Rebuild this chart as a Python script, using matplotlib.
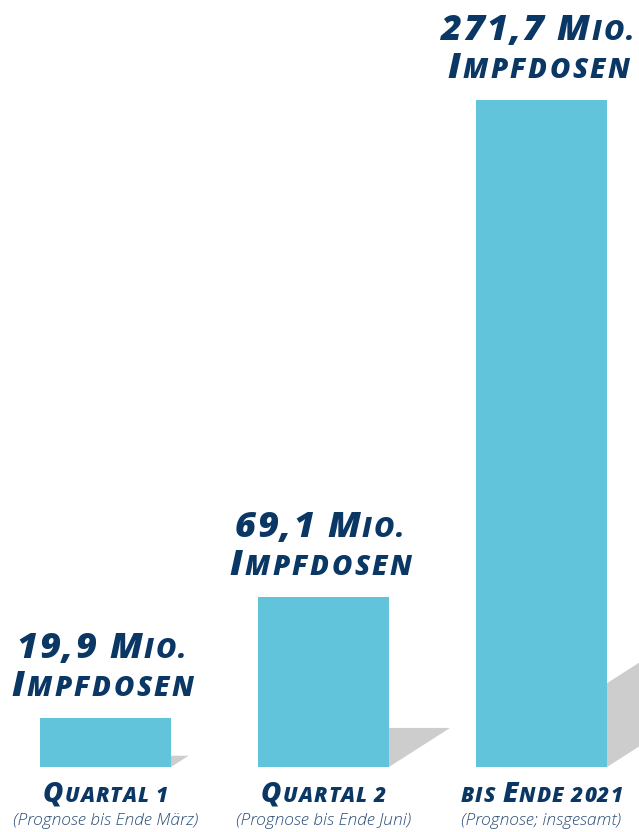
import matplotlib
matplotlib.use('Agg')
import matplotlib.pyplot as plt
from matplotlib.transforms import ScaledTranslation
from matplotlib.patches import Polygon

# ---- data ----
categories = ['Quartal 1', 'Quartal 2', 'bis Ende 2021']
values = [19.9, 69.1, 271.7]
value_texts = ['19,9', '69,1', '271,7']
unit_line1 = 'Mio.'
unit_line2 = 'Impfdosen'
subtitles = ['(Prognose bis Ende März)', '(Prognose bis Ende Juni)', '(Prognose; insgesamt)']
# small-caps segments for category labels: (text, big?)
cat_segments = [
    [('Q', True), ('UARTAL 1', False)],
    [('Q', True), ('UARTAL 2', False)],
    [('BIS ', False), ('E', True), ('NDE 2021', False)],
]

NAVY = '#0b3765'
BAR = '#62c4da'
SHADOW = '#cdcdcd'
SUB = '#2b4d78'
FONT = 'Open Sans'

DPI = 100
fig = plt.figure(figsize=(6.39, 8.32), dpi=DPI)
ax = fig.add_axes([0, 0, 1, 1])
ax.set_xlim(-0.484, 2.447)
ax.set_ylim(-26.5, 312.4)
ax.axis('off')

x = list(range(len(values)))
bar_w = 0.601
ax.bar(x, values, width=bar_w, color=BAR, zorder=3)

# shadows cast to the back-right
for xi, v in zip(x, values):
    dx = v * 0.00405
    dy = v * 0.23
    l, r = xi - bar_w / 2, xi + bar_w / 2
    poly = Polygon([(l, 0), (r, 0), (r + dx, dy), (l + dx, dy)],
                   closed=True, facecolor=SHADOW, edgecolor='none', zorder=1)
    ax.add_patch(poly)

renderer = fig.canvas.get_renderer()
_cache = {}


def char_width(c, size, kw):
    key = (c, size)
    if key not in _cache:
        if c == ' ':
            t1 = ax.text(0, 0, 'a a', fontsize=size, **kw)
            t2 = ax.text(0, 0, 'aa', fontsize=size, **kw)
            w = t1.get_window_extent(renderer).width - t2.get_window_extent(renderer).width
            t1.remove(); t2.remove()
        else:
            t = ax.text(0, 0, c, fontsize=size, **kw)
            w = t.get_window_extent(renderer).width
            t.remove()
        _cache[key] = w
    return _cache[key]


def smallcaps(xd, yd, segments, big, small, dy_px, dx_px=0, track=0.0, **kw):
    chars = []
    for s, b in segments:
        for c in s:
            chars.append((c, big if b else small))
    widths = [char_width(c, sz, kw) for c, sz in chars]
    total = sum(widths) + track * (len(chars) - 1)
    cur = -total / 2 + dx_px
    for (c, sz), w in zip(chars, widths):
        if c != ' ':
            tr = ax.transData + ScaledTranslation(cur / DPI, dy_px / DPI, fig.dpi_scale_trans)
            ax.text(xd, yd, c, fontsize=sz, transform=tr,
                    ha='left', va='baseline', **kw)
        cur += w + track


style = dict(family=FONT, weight=800, style='italic', color=NAVY)
BIG, SMALL = 26, 20
for xi, v, vt in zip(x, values, value_texts):
    seg1 = [(vt + ' ' + unit_line1[0].upper(), True), (unit_line1[1:].upper(), False)]
    seg2 = [(unit_line2[0].upper(), True), (unit_line2[1:].upper(), False)]
    smallcaps(xi, v, seg1, BIG, SMALL, 60, dx_px=-4, track=1.9, **style)
    smallcaps(xi, v, seg2, BIG, SMALL, 22, dx_px=-3, track=2.3, **style)

for xi, segs, sub in zip(x, cat_segments, subtitles):
    smallcaps(xi, 0, segs, 20, 15, -35, track=1.0, **style)
    ax.text(xi, 0, sub, fontsize=12.5, family=FONT, style='italic', weight='light',
            color=SUB, ha='center', va='baseline',
            transform=ax.transData + ScaledTranslation(0, -58 / DPI, fig.dpi_scale_trans))

fig.savefig('out.png', dpi=DPI)
